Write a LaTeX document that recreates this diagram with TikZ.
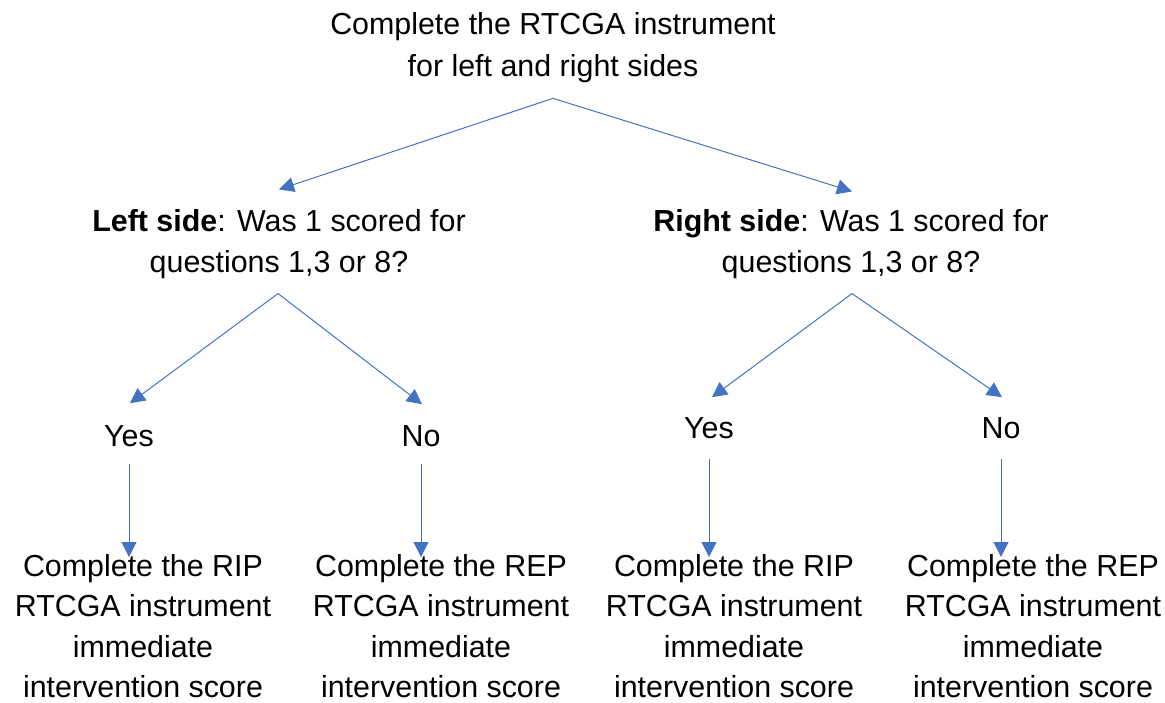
\documentclass[tikz,border=0pt]{standalone}
\usepackage{fontspec}
\setmainfont{Liberation Sans}
\usetikzlibrary{arrows.meta,calc}
\definecolor{flowblue}{HTML}{4472C4}
\begin{document}
\begin{tikzpicture}[x=1pt,y=-1pt,
  txt/.style={inner sep=0pt,align=center,font=\fontsize{30.4}{40.4}\selectfont},
  head/.style={txt,font=\fontsize{30.4}{42}\selectfont},
  flow/.style={draw=flowblue,line width=1pt,-{Triangle[length=15pt,width=15pt]},color=flowblue}]
  \useasboundingbox (0,0) rectangle (1165,703);

  % root question
  \node[head] (root) at (553,48) {Complete the RTCGA instrument\\for left and right sides};

  % side questions
  \node[txt] (lq) at (279,244) {\textbf{Left side}: Was 1 scored for\\questions 1,3 or 8?};
  \node[txt] (rq) at (851,244) {\textbf{Right side}: Was 1 scored for\\questions 1,3 or 8?};

  % answers
  \node[txt] (ly) at (129,436) {Yes};
  \node[txt] (ln) at (421,436) {No};
  \node[txt] (ry) at (709,428) {Yes};
  \node[txt] (rn) at (1001,428) {No};

  % outcomes
  \node[txt] (lyo) at (143,626) {Complete the RIP\\RTCGA instrument\\immediate\\intervention score};
  \node[txt] (lno) at (441,626) {Complete the REP\\RTCGA instrument\\immediate\\intervention score};
  \node[txt] (ryo) at (734,626) {Complete the RIP\\RTCGA instrument\\immediate\\intervention score};
  \node[txt] (rno) at (1033,626) {Complete the REP\\RTCGA instrument\\immediate\\intervention score};

  % connectors
  \draw[flow] ($(root.south)+(0,15)$) -- ($(lq.north)+(0,-20)$);
  \draw[flow] ($(root.south)+(0,15)$) -- ($(rq.north)+(1,-18)$);
  \draw[flow] ($(lq.south)+(-1,15)$) -- ($(ly.north)+(1,-22)$);
  \draw[flow] ($(lq.south)+(-1,15)$) -- ($(ln.north)+(1,-21)$);
  \draw[flow] ($(rq.south)+(1,15)$) -- ($(ry.north)+(3,-20)$);
  \draw[flow] ($(rq.south)+(1,15)$) -- ($(rn.north)+(1,-20)$);
  \draw[flow] ($(ly.south)+(0,17)$) -- ($(ly.south |- lyo.north)+(0,3)$);
  \draw[flow] ($(ln.south)+(0,17)$) -- ($(ln.south |- lno.north)+(0,3)$);
  \draw[flow] ($(ry.south)+(0,20)$) -- ($(ry.south |- ryo.north)+(0,3)$);
  \draw[flow] ($(rn.south)+(0,20)$) -- ($(rn.south |- rno.north)+(0,3)$);
\end{tikzpicture}
\end{document}
